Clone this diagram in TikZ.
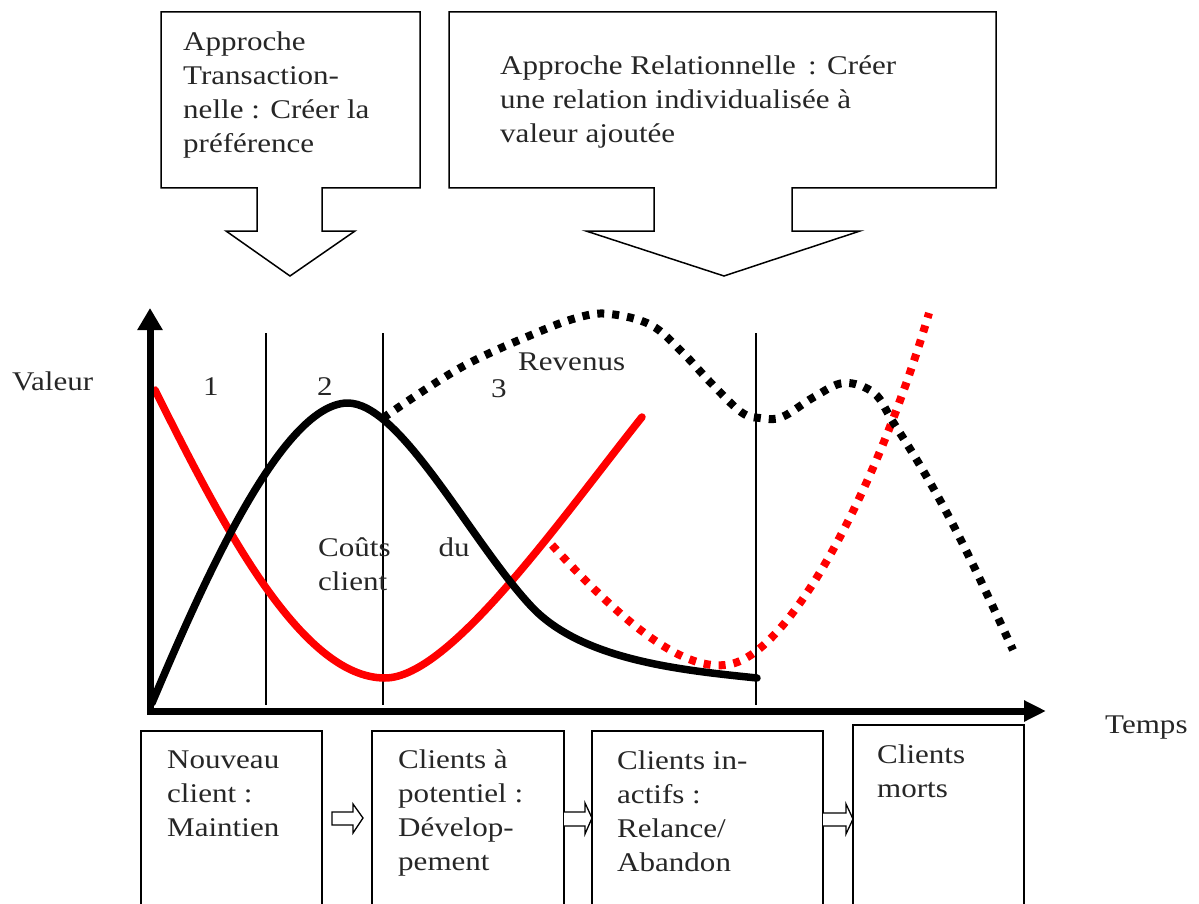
\documentclass[tikz,border=0pt]{standalone}
\usepackage{fontspec}
\setmainfont{Liberation Serif}[FakeStretch=1.15]
\usetikzlibrary{arrows.meta}
\begin{document}
\begin{tikzpicture}[x=1pt,y=-1pt,
  txt/.style={font=\fontsize{27}{34}\selectfont, text=black!85, inner sep=0pt, align=left, anchor=base west},
  frame/.style={draw=black, line width=1.5pt, line join=miter},
  axis/.style={line width=7pt, draw=black},
  divider/.style={line width=1.3pt, draw=black},
  solidcurve/.style={line width=7.5pt, line cap=round, line join=round},
  dotcurve/.style={line width=8pt, dash pattern=on 7pt off 8pt},
  blockarrow/.style={draw=black, line width=1.3pt, fill=white}]
\useasboundingbox (0,0) rectangle (1199,904);

% callouts
\draw[frame] (161,12) -- (420,12) -- (420,188) -- (322,188) -- (322,231) -- (355,231) -- (290,276) -- (226,231) -- (257,231) -- (257,188) -- (161,188) -- cycle;
\draw[frame] (449,12) -- (996,12) -- (996,188) -- (792,188) -- (792,231) -- (860,231) -- (724,276) -- (586,231) -- (654,231) -- (654,188) -- (449,188) -- cycle;
% (base anchor of a multi-line node = baseline of its last line)
\node[txt] (trans) at (183,153) {Approche\\Transaction-\\nelle : Créer la\\préférence};
\node[txt] (rel) at (500,143) {Approche Relationnelle\, : Créer\\une relation individualisée à\\valeur ajoutée};

% dividers
\coordinate (d1t) at (266,333); \coordinate (d1b) at (266,705);
\coordinate (d2t) at (383,333); \coordinate (d2b) at (383,705);
\coordinate (d3t) at (756,333); \coordinate (d3b) at (756,705);
\draw[divider] (d1t) -- (d1b);
\draw[divider] (d2t) -- (d2b);
\draw[divider] (d3t) -- (d3b);

% curves
\draw[solidcurve, red] (155,390) .. controls (220,520) and (300,678) .. (385,678)
                                 .. controls (450,678) and (560,520) .. (642,417);
\draw[dotcurve, red] (552,545) .. controls (620,620) and (680,670) .. (725,665)
                               .. controls (790,660) and (880,480) .. (929,313);
\draw[solidcurve, black] (152,703) .. controls (200,590) and (280,405) .. (347,403)
                                   .. controls (400,402) and (470,540) .. (530,605)
                                   .. controls (580,660) and (680,670) .. (757,678);
\draw[dotcurve, black] plot[smooth, tension=0.6] coordinates {(383,418) (460,368) (536,333) (580,317) (610,314) (651,325) (683,353) (711,383) (741,412) (760,418) (782,417) (814,397) (844,383) (874,393) (893,422) (921,467) (949,517) (977,573) (1013,650)};

% axes
\coordinate (O) at (150,711);
\coordinate (ytop) at (150,308);
\coordinate (xend) at (1046,711);
\draw[axis, -{Triangle[length=22pt,width=24pt]}] (150,714) -- (ytop);
\draw[axis, -{Triangle[length=22pt,width=20pt]}] (147,711) -- (xend);

% labels
\node[txt] (valeur) at (12,390) {Valeur};
\node[txt] (temps) at (1105,733) {Temps};
\node[txt] (z1) at (203,395) {1};
\node[txt] (z2) at (317,395) {2};
\node[txt] (z3) at (491,397) {3};
\node[txt] (rev) at (518,370) {Revenus};
\node[txt] (couts) at (318,590) {Coûts\hspace{48pt}du\\client};

% bottom boxes
\draw[frame] (141,904) -- (141,731) -- (322,731) -- (322,904);
\draw[frame] (372,904) -- (372,731) -- (564,731) -- (564,904);
\draw[frame] (592,904) -- (592,731) -- (823,731) -- (823,904);
\draw[frame] (853,904) -- (853,725) -- (1024,725) -- (1024,904);
\node[txt] (b1) at (167,836) {Nouveau\\client :\\Maintien};
\node[txt] (b2) at (398,870) {Clients à\\potentiel :\\Dévelop-\\pement};
\node[txt] (b3) at (617,871) {Clients in-\\actifs :\\Relance/\\Abandon};
\node[txt] (b4) at (877,797) {Clients\\morts};

% block arrows
\draw[blockarrow] (332,812) -- (353,812) -- (353,804) -- (363,818) -- (353,833) -- (353,825) -- (332,825) -- cycle;
\draw[blockarrow] (564,812) -- (585,812) -- (585,803) -- (592,818) -- (585,834) -- (585,826) -- (564,826);
\draw[blockarrow] (823,813) -- (846,813) -- (846,804) -- (853,819) -- (846,834) -- (846,826) -- (823,826);
\end{tikzpicture}
\end{document}
